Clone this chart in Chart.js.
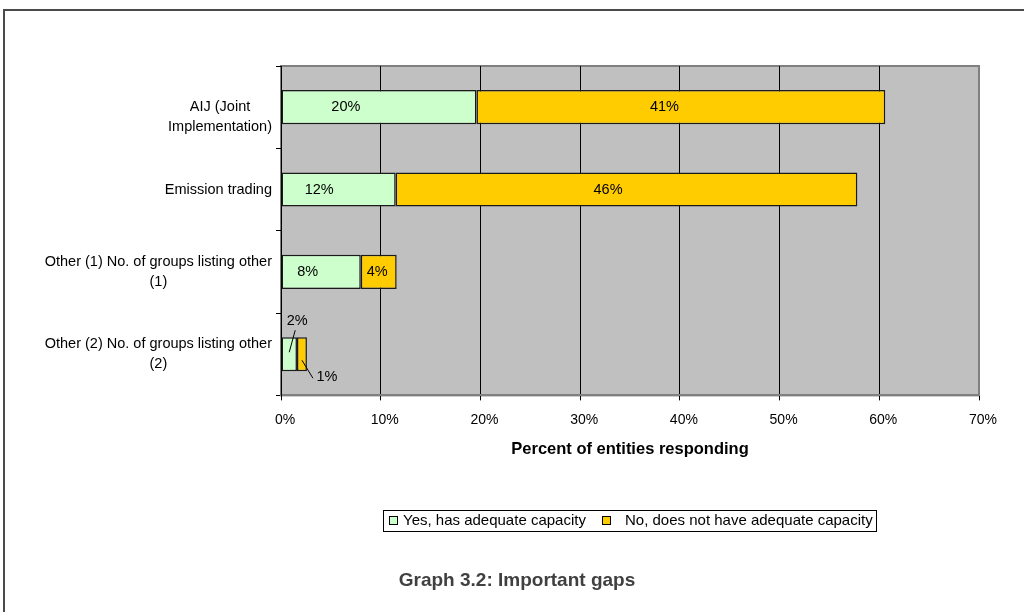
<!DOCTYPE html>
<html>
<head>
<meta charset="utf-8">
<title>Graph 3.2: Important gaps</title>
<script src="https://cdn.jsdelivr.net/npm/chart.js@4/dist/chart.umd.min.js"></script>
<style>
  html, body { margin: 0; padding: 0; background: #fff; }
  canvas { display: block; }
</style>
</head>
<body>
<canvas id="gapsChart" width="1024" height="612"></canvas>
<script>
// categories (wrapped into lines), the two response series and the axis ticks
var categories = [
  ['', 'AIJ (Joint', 'Implementation)'],
  ['Emission trading'],
  ['Other (1) No. of groups listing other', '(1)'],
  ['Other (2) No. of groups listing other', '(2)']
];
var seriesNames = ['Yes, has adequate capacity', 'No, does not have adequate capacity'];
var yesValues = [19.6, 11.5, 8.0, 1.6];
var noValues = [41.0, 46.3, 3.6, 1.0];
var xTicks = [0, 10, 20, 30, 40, 50, 60, 70];
var chartTitle = 'Graph 3.2: Important gaps';
var xTitle = 'Percent of entities responding';

var FONT = '"Liberation Sans", Arial, sans-serif';

// grey plot area with its frame
var plotBackground = {
  id: 'plotBackground',
  beforeDraw: function(chart) {
    var a = chart.chartArea, ctx = chart.ctx;
    ctx.save();
    ctx.fillStyle = '#c0c0c0';
    ctx.fillRect(a.left, a.top, a.right - a.left, a.bottom - a.top);
    ctx.strokeStyle = '#808080';
    ctx.lineWidth = 2;
    ctx.strokeRect(a.left, a.top, a.right - a.left, a.bottom - a.top);
    ctx.restore();
  }
};

// category names to the left of the y axis, centred line by line
var categoryLabels = {
  id: 'categoryLabels',
  afterDraw: function(chart) {
    var ctx = chart.ctx, y = chart.scales.y;
    var right = chart.chartArea.left - 9;
    var lineH = 20;
    ctx.save();
    ctx.font = '14.5px ' + FONT;
    ctx.fillStyle = '#000';
    ctx.textAlign = 'center';
    ctx.textBaseline = 'middle';
    chart.data.labels.forEach(function(lines, i) {
      var cy = y.getPixelForValue(i);
      var widest = 0;
      lines.forEach(function(l) { widest = Math.max(widest, ctx.measureText(l).width); });
      var cx = right - widest / 2;
      var top = cy - (lines.length - 1) * lineH / 2;
      lines.forEach(function(l, k) { ctx.fillText(l, cx, top + k * lineH); });
    });
    ctx.restore();
  }
};

// percentage labels on the bars; thin bars get leader lines
var barLabels = {
  id: 'barLabels',
  afterDatasetsDraw: function(chart) {
    var ctx = chart.ctx;
    ctx.save();
    ctx.font = '14.5px ' + FONT;
    ctx.fillStyle = '#000';
    ctx.strokeStyle = '#000';
    ctx.lineWidth = 1;
    ctx.textBaseline = 'middle';
    ctx.textAlign = 'center';
    chart.data.datasets.forEach(function(ds, di) {
      var meta = chart.getDatasetMeta(di);
      meta.data.forEach(function(el, i) {
        var p = el.getProps(['x', 'base', 'y'], true);
        var text = Math.round(ds.data[i]) + '%';
        var w = p.x - p.base;
        if (w > 25) {
          var f = di === 0 ? 0.33 : 0.46;
          ctx.fillText(text, p.base + w * f, p.y);
        } else {
          var mx = p.base + w / 2;
          ctx.beginPath();
          if (di === 0) {
            ctx.moveTo(mx, p.y - 2);
            ctx.lineTo(mx + 6, p.y - 24);
            ctx.stroke();
            ctx.fillText(text, mx + 8, p.y - 33);
          } else {
            ctx.moveTo(mx, p.y + 6);
            ctx.lineTo(mx + 11, p.y + 24);
            ctx.stroke();
            ctx.fillText(text, mx + 25, p.y + 23);
          }
        }
      });
    });
    ctx.restore();
  }
};

// boxed legend, chart caption and the page frame
var decorations = {
  id: 'decorations',
  afterDraw: function(chart) {
    var ctx = chart.ctx;
    var ds = chart.data.datasets;
    ctx.save();

    ctx.strokeStyle = '#4a4a4a';
    ctx.lineWidth = 2;
    ctx.beginPath();
    ctx.moveTo(4, 612);
    ctx.lineTo(4, 10);
    ctx.lineTo(1024, 10);
    ctx.stroke();

    ctx.strokeStyle = '#000';
    ctx.lineWidth = 1;
    ctx.strokeRect(383.5, 510.5, 493, 21);
    ctx.font = '15px ' + FONT;
    ctx.textBaseline = 'middle';
    ctx.textAlign = 'left';
    var items = [{ box: 389, text: 403 }, { box: 602, text: 625 }];
    items.forEach(function(it, k) {
      ctx.fillStyle = ds[k].backgroundColor;
      ctx.fillRect(it.box + 0.5, 516.5, 8, 8);
      ctx.strokeRect(it.box + 0.5, 516.5, 8, 8);
      ctx.fillStyle = '#000';
      ctx.fillText(ds[k].label, it.text, 521);
    });

    ctx.font = 'bold 19px ' + FONT;
    ctx.fillStyle = '#404040';
    ctx.textAlign = 'center';
    ctx.fillText(chartTitle, 517, 581);
    ctx.restore();
  }
};

var ctx = document.getElementById('gapsChart').getContext('2d');
var gapsChart = new Chart(ctx, {
  type: 'bar',
  data: {
    labels: categories,
    datasets: [{
      label: seriesNames[0],
      data: yesValues,
      backgroundColor: '#ccffcc',
      borderColor: '#1a1a1a',
      borderWidth: 1.5,
      borderSkipped: false
    }, {
      label: seriesNames[1],
      data: noValues,
      backgroundColor: '#ffcc00',
      borderColor: '#1a1a1a',
      borderWidth: 1.5,
      borderSkipped: false
    }]
  },
  options: {
    indexAxis: 'y',
    responsive: false,
    animation: false,
    devicePixelRatio: 1,
    layout: { padding: { left: 276, top: 66, right: 45, bottom: 153 } },
    datasets: { bar: { barPercentage: 1, categoryPercentage: 0.415 } },
    plugins: {
      legend: { display: false },
      title: { display: false },
      tooltip: { enabled: false }
    },
    scales: {
      x: {
        stacked: true,
        min: 0,
        max: 70,
        afterBuildTicks: function(axis) {
          axis.ticks = xTicks.map(function(v) { return { value: v }; });
        },
        ticks: {
          callback: function(v) { return v + '%'; },
          font: { size: 14, family: FONT },
          color: '#000',
          padding: 11,
          labelOffset: 4,
          maxRotation: 0
        },
        grid: {
          color: function(c) { return c.tick && c.tick.value === 70 ? '#808080' : '#000'; },
          tickColor: '#000',
          lineWidth: 1,
          tickLength: 5
        },
        border: { color: '#808080', width: 2 },
        title: {
          display: true,
          text: xTitle,
          font: { size: 16.5, weight: 'bold', family: FONT },
          color: '#000',
          padding: { top: 0, bottom: 0 }
        }
      },
      y: {
        stacked: true,
        ticks: { display: false },
        grid: { drawOnChartArea: false, tickLength: 5, color: '#000', lineWidth: 1 },
        border: { color: '#000', width: 1 }
      }
    }
  },
  plugins: [plotBackground, categoryLabels, barLabels, decorations]
});
</script>
</body>
</html>
